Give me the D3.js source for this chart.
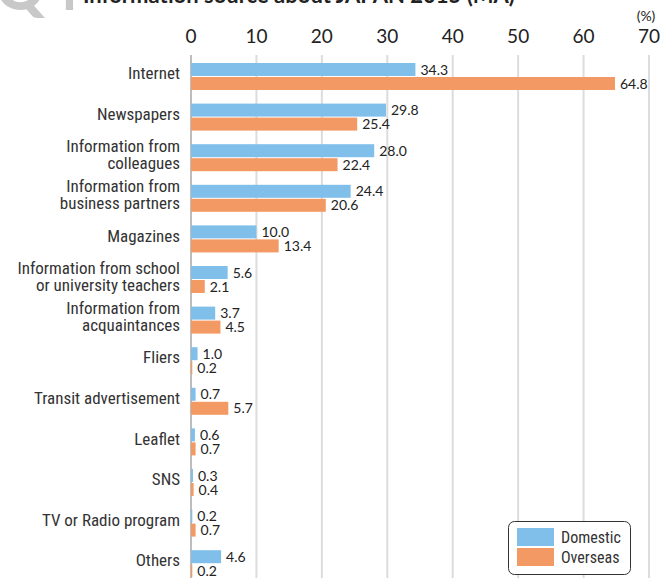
<!DOCTYPE html>
<html>
<head>
<meta charset="utf-8">
<script src="https://cdn.jsdelivr.net/npm/d3@7"></script>
<style>
  body { margin: 0; background: #fff; }
  .cat { font-family: "Liberation Sans Narrow", "Roboto Condensed", "Liberation Sans", sans-serif; fill: #333; }
  .num { font-family: Lato, "Open Sans", sans-serif; fill: #222; }
</style>
</head>
<body>
<svg id="chart" width="666" height="578"></svg>
<script>
// data
var categories = [
  ["Internet"],
  ["Newspapers"],
  ["Information from", "colleagues"],
  ["Information from", "business partners"],
  ["Magazines"],
  ["Information from school", "or university teachers"],
  ["Information from", "acquaintances"],
  ["Fliers"],
  ["Transit advertisement"],
  ["Leaflet"],
  ["SNS"],
  ["TV or Radio program"],
  ["Others"]
]
var domestic = [34.3, 29.8, 28.0, 24.4, 10.0, 5.6, 3.7, 1.0, 0.7, 0.6, 0.3, 0.2, 4.6]
var overseas = [64.8, 25.4, 22.4, 20.6, 13.4, 2.1, 4.5, 0.2, 5.7, 0.7, 0.4, 0.7, 0.2]
var series = ["Domestic", "Overseas"]
var ticks = [0, 10, 20, 30, 40, 50, 60, 70]

var colors = { Domestic: "#7fbfea", Overseas: "#f39a64" }

var svg = d3.select("#chart")

var x = d3.scaleLinear().domain([0, 70]).range([191, 649])
var y = d3.scaleBand()
  .domain(d3.range(categories.length))
  .range([63, 63 + 40.6 * categories.length])
  .paddingInner(0).paddingOuter(0)
var barH = 13

// title (cut off at the top of the picture)
svg.append("text")
  .attr("x", -4).attr("y", 10)
  .attr("font-family", "Lato, sans-serif")
  .attr("font-weight", 900)
  .attr("font-size", 60)
  .attr("fill", "#c8c8c8")
  .text("Q4")
svg.append("text")
  .attr("x", 83).attr("y", 3)
  .attr("font-family", "Lato, sans-serif")
  .attr("font-weight", 700)
  .attr("font-size", 22)
  .attr("fill", "#222")
  .text("Information source about JAPAN 2015 (MA)")

// gridlines
svg.append("g")
  .selectAll("line")
  .data(ticks)
  .enter().append("line")
  .attr("x1", d => x(d)).attr("x2", d => x(d))
  .attr("y1", 55).attr("y2", 578)
  .attr("stroke", d => d === 0 ? "#bdbdbd" : "#dcdcdc")
  .attr("stroke-width", 2)

// tick labels
svg.append("g")
  .selectAll("text")
  .data(ticks)
  .enter().append("text")
  .attr("class", "num")
  .attr("x", d => x(d))
  .attr("y", 43)
  .attr("text-anchor", "middle")
  .attr("font-size", 19)
  .text(d => d)

svg.append("text")
  .attr("class", "num")
  .attr("x", 646).attr("y", 21)
  .attr("text-anchor", "middle")
  .attr("font-size", 14)
  .text("(%)")

// bars
var rows = svg.append("g")
  .selectAll("g")
  .data(categories.map((c, i) => ({ i: i, label: c, vals: [domestic[i], overseas[i]] })))
  .enter().append("g")

series.forEach((s, k) => {
  rows.append("rect")
    .attr("x", x(0))
    .attr("y", d => y(d.i) + k * (barH + 1))
    .attr("width", d => x(d.vals[k]) - x(0))
    .attr("height", barH)
    .attr("fill", colors[s])

  rows.append("text")
    .attr("class", "num")
    .attr("x", d => x(d.vals[k]) + 5)
    .attr("y", d => y(d.i) + k * (barH + 1) + barH / 2)
    .attr("dy", "0.36em")
    .attr("font-size", 14)
    .text(d => d.vals[k].toFixed(1))
})

// category labels
rows.each(function (d) {
  var n = d.label.length
  var lh = 17
  var cy = y(d.i) + barH - 3
  d3.select(this).selectAll("text.cat")
    .data(d.label)
    .enter().append("text")
    .attr("class", "cat")
    .attr("x", 180)
    .attr("y", (t, j) => cy + (j - (n - 1) / 2) * lh)
    .attr("dy", "0.36em")
    .attr("text-anchor", "end")
    .attr("font-size", 17)
    .text(t => t)
})

// legend
var lg = svg.append("g").attr("transform", "translate(508,521)")
lg.append("rect")
  .attr("x", 0.5).attr("y", 0.5)
  .attr("width", 122).attr("height", 53)
  .attr("rx", 6)
  .attr("fill", "#fff")
  .attr("stroke", "#333")
lg.selectAll("g")
  .data(series)
  .enter().append("g")
  .each(function (s, k) {
    var g = d3.select(this)
    g.append("rect")
      .attr("x", 9).attr("y", 7 + k * 20)
      .attr("width", 37).attr("height", 18)
      .attr("fill", colors[s])
    g.append("text")
      .attr("class", "cat")
      .attr("x", 53).attr("y", 16 + k * 20)
      .attr("dy", "0.36em")
      .attr("font-size", 16)
      .text(s)
  })
</script>
</body>
</html>
